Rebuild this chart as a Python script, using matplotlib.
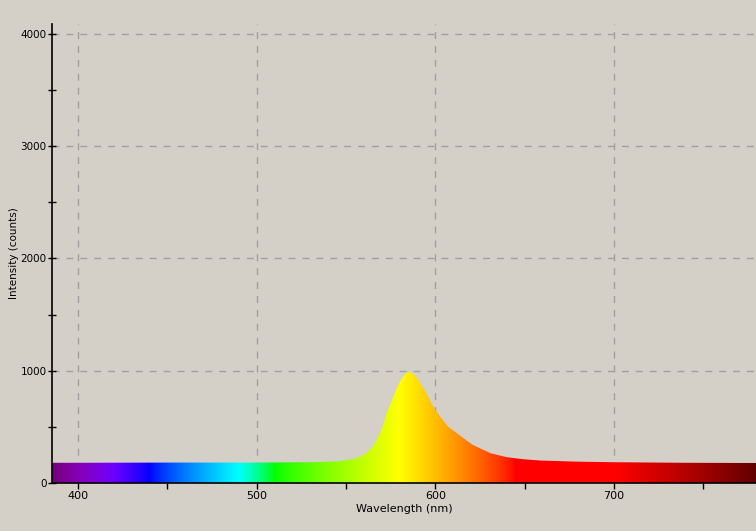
import numpy as np
import matplotlib
matplotlib.use("Agg")
import matplotlib.pyplot as plt
from matplotlib.colors import ListedColormap

# spectrum (wavelength nm, counts)
wavelength = [385, 400, 450, 500, 530, 545, 555, 560.6, 563.4, 566.2, 569,
              570.8, 572.7, 574.6, 576.4, 578.3, 581.1, 583.9, 585.3, 586.7,
              589.5, 592.3, 595.1, 597.9, 600.7, 603.5, 607.2, 611, 614, 621,
              631, 640, 649, 659, 680, 700, 740, 780]
intensity = [180, 180, 182, 182, 185, 192, 215, 257, 295, 354, 442,
             516, 619, 693, 766, 841, 929, 982, 990, 982,
             943, 870, 796, 708, 634, 575, 501, 457, 420, 339,
             265, 230, 212, 200, 190, 185, 180, 178]

x_ticks = [400, 500, 600, 700]
y_ticks = [0, 1000, 2000, 3000, 4000]
x_range = (385.5, 779.5)
y_range = (0, 4089)

bg = "#d4d0c8"


def wl_to_rgb(w, gamma=0.8):
    # classic visible-spectrum approximation
    if w < 440:
        r, g, b = -(w - 440) / 60, 0.0, 1.0
    elif w < 490:
        r, g, b = 0.0, (w - 440) / 50, 1.0
    elif w < 510:
        r, g, b = 0.0, 1.0, -(w - 510) / 20
    elif w < 580:
        r, g, b = (w - 510) / 70, 1.0, 0.0
    elif w < 645:
        r, g, b = 1.0, -(w - 645) / 65, 0.0
    else:
        r, g, b = 1.0, 0.0, 0.0
    if w < 420:
        f = 0.3 + 0.7 * (w - 380) / 40
    elif w > 700:
        f = 0.3 + 0.7 * (780 - w) / 80
    else:
        f = 1.0
    return tuple((c * f) ** gamma if c > 0 else 0.0 for c in (r, g, b))


wl_grid = np.linspace(x_range[0], x_range[1], 800)
spec_cmap = ListedColormap([wl_to_rgb(w) for w in wl_grid])

fig = plt.figure(figsize=(7.56, 5.31), dpi=100, facecolor=bg)
ax = fig.add_axes([52 / 756, 48 / 531, 704 / 756, 459 / 531], facecolor=bg)

poly = ax.fill_between(wavelength, 0, intensity, facecolor="none", edgecolor="none")
img = ax.imshow(np.linspace(0, 1, 800)[None, :], cmap=spec_cmap, aspect="auto",
                extent=[x_range[0], x_range[1], 0, y_range[1]], origin="lower",
                interpolation="bilinear", zorder=2)
img.set_clip_path(poly.get_paths()[0], transform=ax.transData)

ax.set_xlim(*x_range)
ax.set_ylim(*y_range)
ax.set_xticks(x_ticks)
ax.set_xticks([450, 550, 650, 750], minor=True)
ax.set_yticks(y_ticks)
ax.set_yticks([500, 1500, 2500, 3500], minor=True)

ax.grid(True, which="major", color="#a0a0a0", linestyle=(0, (5, 5)), linewidth=1)
ax.set_axisbelow(True)

for s in ("top", "right"):
    ax.spines[s].set_visible(False)
for s in ("left", "bottom"):
    ax.spines[s].set_color("black")
    ax.spines[s].set_linewidth(1.2)
    ax.spines[s].set_zorder(5)

ax.tick_params(axis="x", which="both", direction="out", length=4, width=1,
               labelsize=8, pad=2)
ax.tick_params(axis="y", which="both", direction="inout", length=6, width=1,
               labelsize=7.5, pad=1)

ax.set_xlabel("Wavelength (nm)", fontsize=8, labelpad=2)
ax.set_ylabel("Intensity (counts)", fontsize=7.5, labelpad=1)

fig.savefig("out.png", dpi=100, facecolor=bg)
